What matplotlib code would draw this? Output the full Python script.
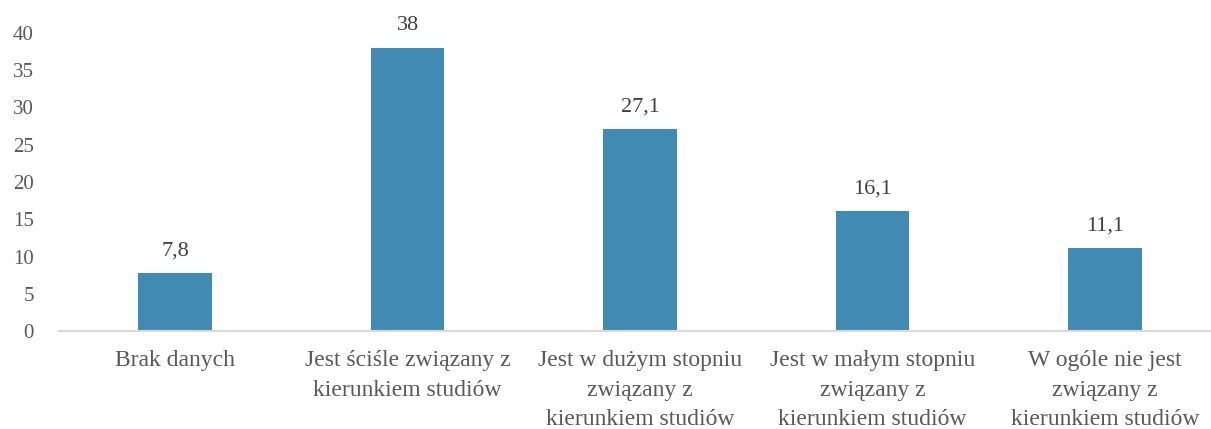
import matplotlib.pyplot as plt

categories = [
    "Brak danych",
    "Jest ściśle związany z\nkierunkiem studiów",
    "Jest w dużym stopniu\nzwiązany z\nkierunkiem studiów",
    "Jest w małym stopniu\nzwiązany z\nkierunkiem studiów",
    "W ogóle nie jest\nzwiązany z\nkierunkiem studiów",
]
values = [7.8, 38, 27.1, 16.1, 11.1]
value_labels = ["7,8", "38", "27,1", "16,1", "11,1"]
yticks = [0, 5, 10, 15, 20, 25, 30, 35, 40]

plt.rcParams['font.family'] = ['Liberation Serif', 'DejaVu Serif']

W, H = 1211, 429
fig = plt.figure(figsize=(W / 100, H / 100), dpi=100)
ax = fig.add_axes([58.75 / W, (H - 331) / H, 1162.5 / W, 298 / H])

x = range(len(categories))
ax.bar(x, values, width=0.315, color='#418AB3', zorder=2)

for xi, v, lab in zip(x, values, value_labels):
    ax.annotate(lab, (xi, v), xytext=(0, 9), textcoords='offset points',
                ha='center', va='bottom', fontsize=16, color='#404040')

ax.set_xlim(-0.5, 4.5)
ax.set_ylim(0, 40)
ax.set_yticks(yticks)
ax.set_yticklabels([str(t) for t in yticks], fontsize=15, color='#595959')
ax.set_xticks(list(x))
ax.set_xticklabels(categories, fontsize=17, color='#595959', linespacing=1.55)
ax.tick_params(axis='both', length=0)
ax.tick_params(axis='x', pad=13.5)
ax.tick_params(axis='y', pad=18)

for s in ['top', 'right', 'left']:
    ax.spines[s].set_visible(False)
ax.spines['bottom'].set_color('#D9D9D9')
ax.spines['bottom'].set_linewidth(1.5)

fig.savefig('out.png', dpi=100)
